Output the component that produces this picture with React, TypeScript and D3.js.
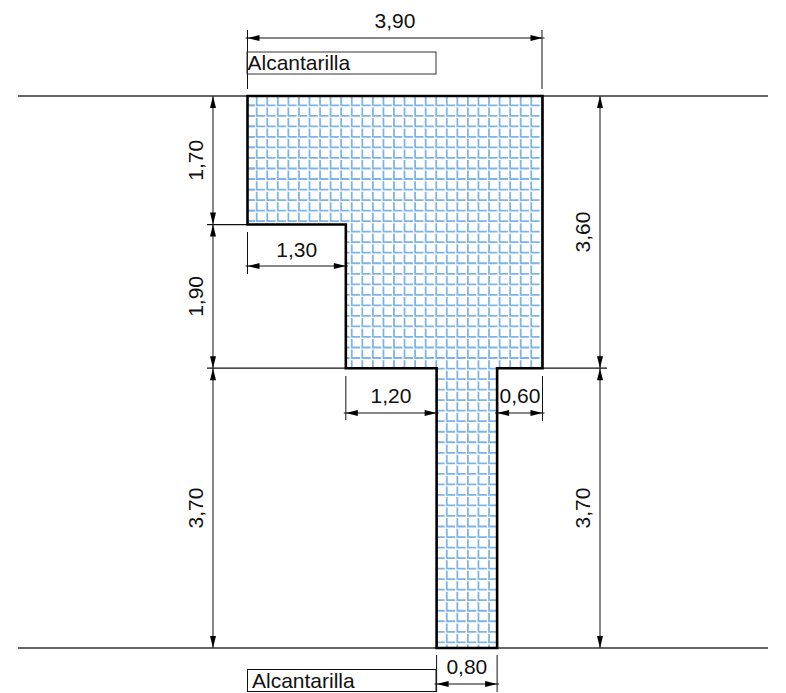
import React from "react";
import * as d3 from "d3";

// Section outline, in metres from the top-left corner
const outlineX = [0, 3.9, 3.9, 3.3, 3.3, 2.5, 2.5, 1.3, 1.3, 0];
const outlineY = [0, 0, 3.6, 3.6, 7.3, 7.3, 3.6, 3.6, 1.7, 1.7];

// Dimension values
const topWidth = [3.9];
const stepWidths = [1.3, 1.2, 0.6];
const baseWidth = [0.8];
const leftHeights = [1.7, 1.9, 3.7];
const rightHeights = [3.6, 3.7];
const boxLabels = ["Alcantarilla", "Alcantarilla"];

const fmt = (v: number) => v.toFixed(2).replace(".", ",");
const x = d3.scaleLinear().domain([0, 3.9]).range([247.5, 542.5]);
const y = d3.scaleLinear().domain([0, 7.3]).range([96, 648]);

const font = "Liberation Sans, Arial, sans-serif";
const blue = "#7fb4e6";
const labelSize = 21;

function HDim({ a, b, at, label, tx, ty }: any) {
  const xa = x(a), xb = x(b);
  return (
    <g>
      <line x1={xa - 2} x2={xb + 2} y1={at} y2={at} stroke="#111" strokeWidth={1} />
      <path d={`M${xa},${at}L${xa + 12},${at - 3}L${xa + 12},${at + 3}Z`} fill="#000" />
      <path d={`M${xb},${at}L${xb - 12},${at - 3}L${xb - 12},${at + 3}Z`} fill="#000" />
      <text x={tx ?? (xa + xb) / 2} y={ty} textAnchor="middle" fontSize={labelSize} fontFamily={font} fill="#111">{label}</text>
    </g>
  );
}

function VDim({ a, b, at, label, tx }: any) {
  const ya = y(a), yb = y(b);
  const cy = (ya + yb) / 2;
  return (
    <g>
      <line x1={at} x2={at} y1={ya} y2={yb} stroke="#111" strokeWidth={1} />
      <path d={`M${at},${ya}L${at - 3},${ya + 12}L${at + 3},${ya + 12}Z`} fill="#000" />
      <path d={`M${at},${yb}L${at - 3},${yb - 12}L${at + 3},${yb - 12}Z`} fill="#000" />
      <text transform={`translate(${tx},${cy}) rotate(-90)`} textAnchor="middle" fontSize={labelSize} fontFamily={font} fill="#111">{label}</text>
    </g>
  );
}

export default function App() {
  const outline = d3.line<number>().x((d) => x(outlineX[d])).y((d) => y(outlineY[d]))(d3.range(outlineX.length)) + "Z";
  const stepX = 10.56, stepY = 10.53;
  const vs = d3.range(-1, 29).map((i) => 256.7 + i * stepX);
  const hs = d3.range(0, 54).map((i) => 105.3 + i * stepY);
  const y17 = y(1.7), y36 = y(3.6), y73 = y(7.3), x0 = x(0), x13 = x(1.3), x25 = x(2.5), x33 = x(3.3), x39 = x(3.9);
  const line = (x1: number, y1: number, x2: number, y2: number, w = 1, c = "#111") => (
    <line x1={x1} y1={y1} x2={x2} y2={y2} stroke={c} strokeWidth={w} />
  );
  return (
    <svg width={786} height={693} style={{ position: "absolute", left: 0, top: 0, background: "#fff" }}>
      <defs>
        <clipPath id="section"><path d={outline} /></clipPath>
      </defs>

      {/* ground lines */}
      {line(18, y(0), 768, y(0), 1.3, "#333")}
      {line(18, y73, 768, y73, 1.3, "#333")}

      {/* hatch */}
      <path d={outline} fill="#fff" />
      <g clipPath="url(#section)" stroke={blue} strokeWidth={1.8}>
        {vs.flatMap((vx) =>
          hs.map((hy) => (
            <path key={`${vx}-${hy}`} d={`M${vx},${hy - 8.4}V${hy}H${vx + 8.4}`} fill="none" />
          ))
        )}
        {hs.map((hy) => <line key={hy} x1={x0} x2={x0 + 7.6} y1={hy} y2={hy} />)}
      </g>

      {/* extension lines */}
      {line(x0, 30, x0, 89)}
      {line(x39 - 0.5, 30, x39 - 0.5, 89)}
      {line(207, y17, x0, y17, 1.2)}
      {line(207, y36, x13, y36, 1.2)}
      {line(x39, y36, 607, y36, 1.2)}
      {line(x0, 232, x0, 274)}
      {line(x13, 376, x13, 420)}
      {line(x39, 376, x39, 421)}
      {line(x25, 655, x25, 692)}
      {line(x33, 655, x33, 692)}

      {/* outline */}
      <path d={outline} fill="none" stroke="#000" strokeWidth={2.6} />

      {/* dimensions */}
      <HDim a={0} b={topWidth[0]} at={38} label={fmt(topWidth[0])} ty={28} />
      <HDim a={0} b={stepWidths[0]} at={266} label={fmt(stepWidths[0])} ty={257} />
      <HDim a={1.3} b={1.3 + stepWidths[1]} at={413} label={fmt(stepWidths[1])} ty={403} tx={391} />
      <HDim a={3.3} b={3.3 + stepWidths[2]} at={413} label={fmt(stepWidths[2])} ty={403} tx={520} />
      <HDim a={2.5} b={2.5 + baseWidth[0]} at={684} label={fmt(baseWidth[0])} ty={674} />

      <VDim a={0} b={leftHeights[0]} at={213} label={fmt(leftHeights[0])} tx={203} />
      <VDim a={leftHeights[0]} b={leftHeights[0] + leftHeights[1]} at={213} label={fmt(leftHeights[1])} tx={203} />
      <VDim a={3.6} b={3.6 + leftHeights[2]} at={213} label={fmt(leftHeights[2])} tx={203} />
      <VDim a={0} b={rightHeights[0]} at={600} label={fmt(rightHeights[0])} tx={590} />
      <VDim a={3.6} b={3.6 + rightHeights[1]} at={600} label={fmt(rightHeights[1])} tx={590} />

      {/* label boxes */}
      <rect x={247} y={52} width={189} height={22} fill="none" stroke="#333" strokeWidth={1} />
      <text x={247.5} y={70} fontSize={21} fontFamily={font} fill="#111">{boxLabels[0]}</text>
      <rect x={247.5} y={669.5} width={188.5} height={22} fill="none" stroke="#111" strokeWidth={1} />
      <text x={252} y={688} fontSize={21} fontFamily={font} fill="#111">{boxLabels[1]}</text>
    </svg>
  );
}
